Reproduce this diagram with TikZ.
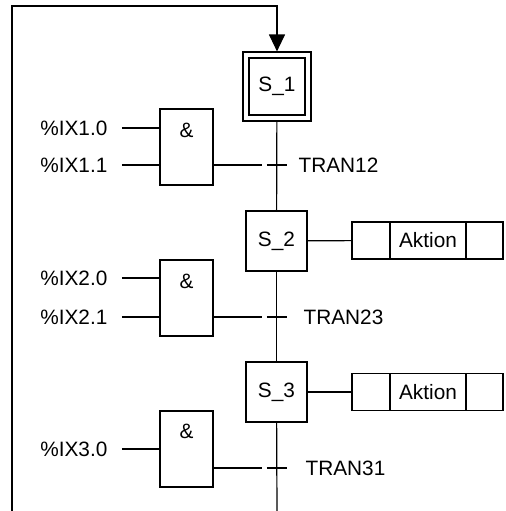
\documentclass[tikz,border=0pt]{standalone}
\usepackage{fontspec}
\setmainfont{Liberation Sans}
\usetikzlibrary{arrows.meta,fit,positioning}

\begin{document}
\begin{tikzpicture}[
  x=0.5pt, y=-0.5pt,
  font=\fontsize{10.4}{12.5}\selectfont,
  line width=.6pt,
  stepbox/.style={draw, minimum width=30.5pt, minimum height=30pt, inner sep=0pt},
  gate/.style={draw, minimum width=26.5pt, minimum height=38pt, inner sep=0pt,
    label={[anchor=north, inner sep=0pt, yshift=-6.8pt]north:\&}},
  cell/.style={draw, minimum height=18.5pt, minimum width=19pt, inner sep=0pt, outer sep=0pt},
  signal/.style={anchor=east, inner xsep=7pt, inner ysep=0pt},
  trlabel/.style={inner sep=0pt},
  flow/.style={-{Triangle[length=8.5pt, width=8pt]}}
]
  \useasboundingbox (0,0) rectangle (506,511);

  % steps
  \node[draw, minimum width=28pt, minimum height=28.5pt, inner sep=0pt] (s1) at (277,86.5) {S\_1};
  \node[draw, fit=(s1), inner sep=2.7pt] (s1box) {};
  \node[stepbox] (s2) at (276.5,241) {S\_2};
  \node[stepbox] (s3) at (276.5,392) {S\_3};

  % transitions
  \coordinate (t12) at (277,165);
  \coordinate (t23) at (277,317);
  \coordinate (t31) at (277,468);
  \coordinate (bottom) at (277,511);
  \coordinate (loop) at (12,511);
  \coordinate (turn) at (12,6);

  \node[trlabel, right=10.5pt of t12, anchor=west] (l12) {TRAN12};
  \node[trlabel, right=13pt of t23, anchor=west] (l23) {TRAN23};
  \node[trlabel, right=14pt of t31, anchor=west] (l31) {TRAN31};

  % actions
  \node[cell] (a2l) at (371,240.5) {};
  \node[cell, right=0pt of a2l, minimum width=38pt] (a2) {Aktion};
  \node[cell, right=0pt of a2, minimum width=18.5pt] (a2r) {};
  \node[cell] (a3l) at (371,392) {};
  \node[cell, right=0pt of a3l, minimum width=38pt] (a3) {Aktion};
  \node[cell, right=0pt of a3, minimum width=18.5pt] (a3r) {};

  % and gates
  \node[gate] (g1) at (186.5,147) {};
  \node[gate] (g2) at (186.5,298) {};
  \node[gate] (g3) at (186.5,449) {};

  \node[signal] (i10) at (122,128) {\%IX1.0};
  \node[signal] (i11) at (122,165) {\%IX1.1};
  \node[signal] (i20) at (122,278) {\%IX2.0};
  \node[signal] (i21) at (122,317) {\%IX2.1};
  \node[signal] (i30) at (122,449) {\%IX3.0};

  % connections
  \draw (s1box) -- (s2);
  \draw (s2) -- (s3);
  \draw (s3) -- (bottom);
  \draw[flow] (loop) -- (turn) -| (s1box.north);
  \draw (s2) -- (a2l);
  \draw (s3) -- (a3l);

  \foreach \t in {t12,t23,t31} {
    \draw ([xshift=-5pt]\t) -- ([xshift=5pt]\t);
  }
  \draw (g1.east |- t12) -- ([xshift=-7.5pt]t12);
  \draw (g2.east |- t23) -- ([xshift=-7.5pt]t23);
  \draw (g3.east |- t31) -- ([xshift=-7.5pt]t31);

  \draw (i10.east) -- (g1.west |- i10);
  \draw (i11.east) -- (g1.west |- i11);
  \draw (i20.east) -- (g2.west |- i20);
  \draw (i21.east) -- (g2.west |- i21);
  \draw (i30.east) -- (g3.west |- i30);
\end{tikzpicture}
\end{document}
